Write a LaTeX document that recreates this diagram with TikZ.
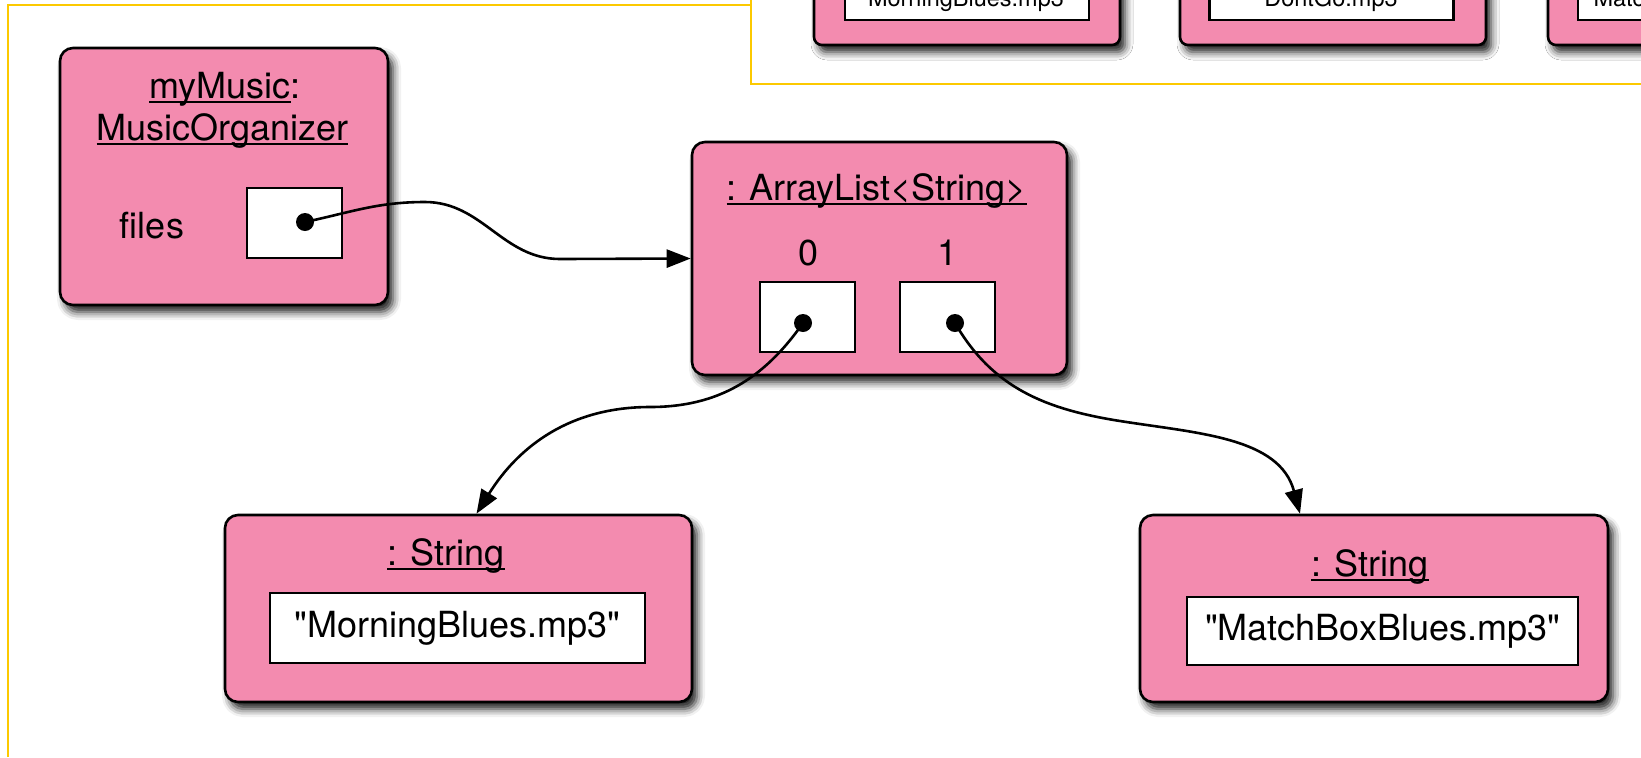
\documentclass[tikz,border=0pt]{standalone}
\usepackage{fontspec}
\setmainfont{TeX Gyre Heros}[Ligatures=TeXOff]
\usepackage{tikz}
\usetikzlibrary{arrows.meta,shadows.blur}
\definecolor{objpink}{RGB}{243,139,175}
\definecolor{framegold}{RGB}{252,201,0}
\newcommand{\uln}[1]{\setbox0=\hbox{#1}\rlap{\rule[-2.5pt]{\wd0}{1pt}}\box0}

\begin{document}
\begin{tikzpicture}[x=0.5pt,y=0.5pt,
  font=\fontsize{18}{22}\selectfont,
  obj/.style={draw,line width=1.3pt,fill=objpink,rounded corners=6.5pt,
    blur shadow={shadow xshift=2.5pt,shadow yshift=-3.5pt,
      shadow blur radius=4pt,shadow opacity=90}},
  slot/.style={draw,line width=1.3pt,fill=white,inner sep=0pt},
  dot/.style={circle,fill=black,inner sep=0pt,minimum size=9pt},
  ref/.style={line width=1.3pt,-{Triangle[length=12pt,width=9pt]}},
  frame/.style={draw=framegold,line width=0.8pt},
  small/.style={font=\fontsize{11.75}{14}\selectfont}]
\useasboundingbox (0,0) rectangle (1641,-757);
\draw[frame] (8,-757) -- (8,-5) -- (751,-5);
\fill[white] (751,0) rectangle (1641,-84);
\draw[frame] (751,0) -- (751,-84) -- (1641,-84);
\begin{scope}
\clip (751,0) rectangle (1641,-84);
\node[obj,rounded corners=4pt,minimum width=153pt,minimum height=52.5pt] (tb1) at (967,7.5) {};
\node[obj,rounded corners=4pt,minimum width=153pt,minimum height=52.5pt] (tb2) at (1333,7.5) {};
\node[obj,rounded corners=4pt,minimum width=153pt,minimum height=52.5pt] (tb3) at (1701,7.5) {};
\node[slot,minimum width=122pt,minimum height=30pt] (tv1) at (967,10) {};
\node[slot,minimum width=122pt,minimum height=30pt] (tv2) at (1331.5,10) {};
\node[slot,minimum width=122pt,minimum height=30pt] (tv3) at (1700,10) {};
\node[small,anchor=base] (tt1) at (966,-6) {"MorningBlues.mp3"};
\node[small,anchor=base] (tt2) at (1331,-6) {"DontGo.mp3"};
\node[small,anchor=base] (tt3) at (1701,-6) {"MatchBoxBlues.mp3"};
\end{scope}
\node[obj,minimum width=164pt,minimum height=128.5pt] (mm) at (224,-176.5) {};
\node[anchor=base] (mmname) at (225,-98) {\uln{myMusic}:};
\node[anchor=base] (mmclass) at (222.5,-140) {\uln{MusicOrganizer}};
\node[anchor=base] (files) at (152,-238) {files};
\node[slot,minimum width=47.5pt,minimum height=35pt] (fslot) at (294.5,-223) {};
\node[dot] (fd) at (305,-222) {};
\node[obj,minimum width=187.5pt,minimum height=116.5pt] (al) at (879.5,-258.5) {};
\node[anchor=base] (altitle) at (876.5,-200) {\uln{: ArrayList<String>}};
\node[anchor=base] (i0) at (808,-265) {0};
\node[anchor=base] (i1) at (947,-265) {1};
\node[slot,minimum width=47.5pt,minimum height=35pt] (slot0) at (807.5,-317) {};
\node[slot,minimum width=47.5pt,minimum height=35pt] (slot1) at (947.5,-317) {};
\node[dot] (d0) at (803,-323) {};
\node[dot] (d1) at (955,-323) {};
\node[obj,minimum width=233.5pt,minimum height=93.5pt] (s1) at (458.5,-608.5) {};
\node[anchor=base] (s1title) at (446,-565) {\uln{: String}};
\node[slot,minimum width=187.5pt,minimum height=35pt] (v1) at (457.5,-628) {"MorningBlues.mp3"};
\node[obj,minimum width=234pt,minimum height=93.5pt] (s2) at (1374,-608.5) {};
\node[anchor=base] (s2title) at (1370,-576) {\uln{: String}};
\node[slot,minimum width=195.5pt,minimum height=34pt] (v2) at (1382.5,-631) {"MatchBoxBlues.mp3"};
\draw[ref] (fd.center) to[out=12,in=180] (425,-202) to[out=0,in=180] (560,-259) -- (al.west);
\draw[ref] (d0.center) to[out=-125,in=0] (650,-407) to[out=180,in=58] ([xshift=9pt]s1.north);
\draw[ref] (d1.center) to[out=-60,in=171] (1120,-421) to[out=-9,in=105] ([xshift=-37pt]s2.north);
\end{tikzpicture}
\end{document}
